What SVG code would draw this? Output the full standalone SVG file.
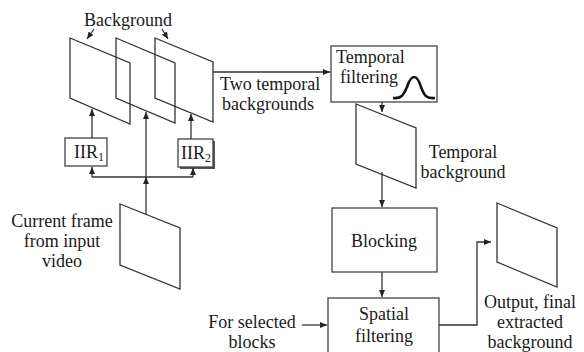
<svg xmlns="http://www.w3.org/2000/svg" width="584" height="352" viewBox="0 0 584 352">
<defs>
<marker id="ah" markerUnits="userSpaceOnUse" markerWidth="7" markerHeight="6" refX="7" refY="3" orient="auto">
<path d="M0,0 L7,3 L0,6 z" fill="#222"/>
</marker>
<style>
.t{font-family:"Liberation Serif","Times New Roman",serif;font-size:18px;fill:#1a1a1a}
.m{text-anchor:middle}
.f{fill:none;stroke:#333;stroke-width:1.3}
.b{fill:#fff;stroke:#444;stroke-width:1.3}
.c{fill:none;stroke:#333;stroke-width:1.3;marker-end:url(#ah)}
.l{fill:none;stroke:#333;stroke-width:1.3}
</style>
</defs>
<rect width="584" height="352" fill="#fff"/>

<g id="bg-label">
<text class="t m" x="128" y="26">Background</text>
</g>
<g id="frame1"><polygon class="f" points="70,38 130,63 130,124 70,98"/></g>
<g id="frame2"><polygon class="f" points="116,38 175,63 175,123 116,98"/></g>
<g id="frame3"><polygon class="f" points="155,38 213,62 213,122 155,98"/></g>

<g id="iir1">
<rect class="b" x="65" y="138" width="42" height="28"/>
<text class="t" x="74" y="158">IIR<tspan font-size="12" dy="3">1</tspan></text>
</g>
<g id="iir2">
<rect x="180" y="141" width="35" height="28" fill="#555"/>
<rect class="b" x="178" y="139" width="35" height="28"/>
<text class="t" x="181" y="159">IIR<tspan font-size="12" dy="3">2</tspan></text>
</g>

<g id="current-frame">
<polygon class="f" points="120,204 180,228 180,289 120,265"/>
<text class="t m" x="62" y="227">Current frame</text>
<text class="t m" x="62" y="247">from input</text>
<text class="t m" x="62" y="267">video</text>
</g>

<g id="two-label">
<text class="t" x="220" y="90">Two temporal</text>
<text class="t" x="222" y="110">backgrounds</text>
</g>

<g id="temporal-filtering">
<rect class="b" x="331" y="46" width="106" height="56"/>
<text class="t" x="336" y="63">Temporal</text>
<text class="t" x="340" y="83">filtering</text>
<path d="M393,98 C402,99 404,94 407,87 C410,78 412,77 414,77 C417,77 419,80 421,87 C424,95 426,99 435,98" fill="none" stroke="#111" stroke-width="2.6"/>
</g>

<g id="temporal-background">
<polygon class="f" points="356,104 416,128 416,188 356,164"/>
<text class="t m" x="463" y="158">Temporal</text>
<text class="t m" x="463" y="178">background</text>
</g>

<g id="blocking">
<rect class="b" x="332" y="208" width="105" height="64"/>
<text class="t m" x="384" y="247">Blocking</text>
</g>

<g id="spatial">
<rect class="b" x="328" y="298" width="111" height="70"/>
<text class="t m" x="384" y="320">Spatial</text>
<text class="t m" x="384" y="342">filtering</text>
</g>

<g id="selected-label">
<text class="t m" x="252" y="328">For selected</text>
<text class="t m" x="252" y="348">blocks</text>
</g>

<g id="output">
<polygon class="f" points="497,203 557,228 557,287 497,262"/>
<text class="t m" x="530" y="308">Output, final</text>
<text class="t m" x="530" y="328">extracted</text>
<text class="t m" x="530" y="348">background</text>
</g>

<g id="connectors">
<line class="c" x1="94" y1="29" x2="87" y2="39"/>
<line class="c" x1="162" y1="29" x2="168" y2="39"/>
<line class="c" x1="92" y1="138" x2="92" y2="109"/>
<line class="c" x1="191" y1="139" x2="191" y2="114"/>
<line class="c" x1="146" y1="177" x2="146" y2="112"/>
<line class="c" x1="146" y1="214" x2="146" y2="177"/>
<polyline class="l" points="92,177 193,177"/>
<line class="c" x1="92" y1="177" x2="92" y2="167"/>
<line class="c" x1="193" y1="177" x2="193" y2="168"/>
<line class="c" x1="213" y1="72" x2="330" y2="72"/>
<line class="c" x1="382" y1="102" x2="382" y2="112"/>
<line class="c" x1="382" y1="172" x2="382" y2="207"/>
<line class="c" x1="382" y1="272" x2="382" y2="297"/>
<line class="c" x1="302" y1="325" x2="327" y2="325"/>
<polyline class="c" points="439,325 477,325 477,242 491,242"/>
</g>
</svg>
